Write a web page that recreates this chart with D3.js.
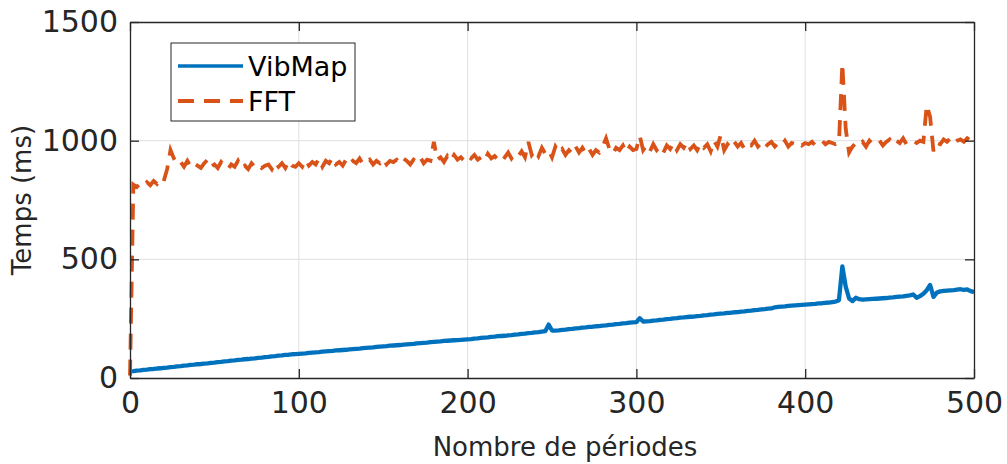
<!DOCTYPE html>
<html>
<head>
<meta charset="utf-8">
<script src="https://cdn.jsdelivr.net/npm/d3@7"></script>
<style>
  html, body { margin: 0; padding: 0; background: #fff; }
  svg { display: block; font-family: "DejaVu Sans", sans-serif; }
</style>
</head>
<body>
<svg id="chart" width="1007" height="464"></svg>
<script>
// ---- Data ----
const periods = d3.range(0, 501, 2); // 0, 2, 4, ... 500

const vibmap = [
  28, 29, 31, 32, 34, 35, 37, 38, 40, 41,
  43, 44, 46, 47, 49, 50, 52, 53, 55, 56,
  58, 59, 61, 62, 64, 65, 67, 68, 70, 71,
  73, 74, 76, 77, 79, 80, 82, 83, 85, 86,
  88, 89, 91, 92, 94, 95, 97, 98, 100, 101,
  102, 103, 104, 106, 107, 108, 109, 111, 112, 113,
  114, 116, 117, 118, 119, 121, 122, 123, 124, 126,
  127, 128, 129, 131, 132, 133, 134, 136, 137, 138,
  139, 141, 142, 143, 144, 146, 147, 148, 149, 151,
  152, 153, 154, 156, 157, 158, 159, 160, 161, 162,
  163, 164, 166, 167, 169, 170, 171, 173, 174, 176,
  177, 178, 180, 181, 183, 184, 186, 187, 189, 190,
  192, 193, 195, 197, 225, 200, 200, 201, 203, 204,
  206, 207, 209, 210, 212, 213, 215, 216, 218, 219,
  221, 222, 224, 225, 227, 228, 230, 231, 233, 234,
  235, 252, 238, 239, 240, 242, 243, 245, 246, 248,
  249, 251, 252, 254, 255, 257, 258, 259, 261, 262,
  264, 265, 267, 268, 270, 271, 272, 274, 275, 277,
  278, 280, 281, 283, 284, 286, 287, 289, 290, 292,
  293, 298, 300, 301, 302, 304, 305, 306, 307, 308,
  309, 310, 311, 312, 314, 315, 317, 318, 320, 322,
  328, 470, 385, 335, 324, 338, 332, 330, 331, 332,
  333, 334, 335, 336, 337, 339, 340, 342, 343, 344,
  346, 348, 352, 338, 345, 355, 370, 392, 342, 360,
  365, 367, 368, 369, 370, 372, 374, 371, 373, 366,
  362
];

const fft = [
  10, 815, 805, 820, 810, 825, 812, 830, 818, 840,
  830, 880, 960, 925, 900, 910, 890, 915, 890, 905,
  895, 885, 905, 920, 890, 900, 885, 910, 895, 880,
  900, 890, 915, 885, 895, 880, 905, 890, 900, 885,
  895, 900, 880, 910, 890, 905, 885, 915, 895, 890,
  905, 890, 920, 895, 910, 900, 925, 890, 915, 905,
  930, 900, 910, 895, 920, 900, 915, 905, 925, 900,
  910, 920, 900, 915, 905, 925, 900, 915, 910, 920,
  905, 925, 915, 900, 920, 910, 930, 905, 920, 915,
  995, 920, 930, 910, 935, 915, 940, 920, 930, 915,
  935, 925, 940, 920, 930, 915, 945, 925, 935, 920,
  940, 930, 950, 925, 945, 935, 955, 930, 995, 940,
  960, 935, 970, 945, 960, 930, 975, 950, 965, 940,
  960, 945, 975, 950, 970, 945, 965, 940, 960, 950,
  975, 1010, 965, 945, 970, 960, 980, 950, 975, 960,
  965, 1020, 960, 980, 955, 985, 960, 975, 950, 980,
  965, 990, 960, 985, 970, 995, 965, 980, 960, 990,
  970, 985, 955, 1000, 975, 1025, 960, 985, 970, 995,
  975, 990, 965, 985, 980, 1000, 975, 990, 970, 985,
  995, 975, 990, 980, 1000, 975, 990, 985, 995, 980,
  990, 985, 995, 980, 990, 1000, 985, 995, 990, 985,
  990, 1325, 1050, 950, 975, 990, 980, 995, 975, 1000,
  985, 990, 1000, 980, 995, 1005, 985, 1000, 990, 1010,
  985, 995, 1000, 990, 1000, 995, 1150, 1100, 955, 990,
  985, 1005, 995, 1010, 990, 1000, 1005, 995, 1010, 1000,
  1005
];

const xTicks = [0, 100, 200, 300, 400, 500];
const yTicks = [0, 500, 1000, 1500];
const seriesNames = ["VibMap", "FFT"];
const xLabel = "Nombre de périodes";
const yLabel = "Temps (ms)";

// ---- Layout ----
const W = 1007, H = 464;
const m = { left: 130, right: W - 974, top: 22, bottom: H - 378 };
const iw = W - m.left - m.right, ih = H - m.top - m.bottom;
const axisColor = "#262626";
const colors = { VibMap: "#0072BD", FFT: "#D95319" };

const svg = d3.select("#chart");
const g = svg.append("g").attr("transform", `translate(${m.left},${m.top})`);

const x = d3.scaleLinear().domain([0, 500]).range([0, iw]);
const y = d3.scaleLinear().domain([0, 1500]).range([ih, 0]);

// grid
g.append("g").selectAll("line").data(xTicks.slice(1, -1)).join("line")
  .attr("x1", d => x(d)).attr("x2", d => x(d)).attr("y1", 0).attr("y2", ih)
  .attr("stroke", "#dfdfdf").attr("stroke-width", 1);
g.append("g").selectAll("line").data(yTicks.slice(1, -1)).join("line")
  .attr("y1", d => y(d)).attr("y2", d => y(d)).attr("x1", 0).attr("x2", iw)
  .attr("stroke", "#dfdfdf").attr("stroke-width", 1);

// lines
g.append("defs").append("clipPath").attr("id", "clip")
  .append("rect").attr("x", -2).attr("y", -2).attr("width", iw + 4).attr("height", ih + 4);

const lineGen = arr => d3.line().x((d, i) => x(periods[i])).y(d => y(d))(arr);

g.append("path").attr("d", lineGen(vibmap)).attr("clip-path", "url(#clip)")
  .attr("fill", "none").attr("stroke", colors.VibMap).attr("stroke-width", 4.3)
  .attr("stroke-linejoin", "round");

g.append("path").attr("d", lineGen(fft)).attr("clip-path", "url(#clip)")
  .attr("fill", "none").attr("stroke", colors.FFT).attr("stroke-width", 3.8)
  .attr("stroke-dasharray", "16,10");

// axes (box)
const tickLen = 9;
const fmt = d3.format("d");
const xAxisB = d3.axisBottom(x).tickValues(xTicks).tickFormat(fmt).tickSizeInner(-tickLen).tickSizeOuter(0).tickPadding(14);
const xAxisT = d3.axisTop(x).tickValues(xTicks).tickSizeInner(-tickLen).tickSizeOuter(0).tickFormat("");
const yAxisL = d3.axisLeft(y).tickValues(yTicks).tickFormat(fmt).tickSizeInner(-tickLen).tickSizeOuter(0).tickPadding(12);
const yAxisR = d3.axisRight(y).tickValues(yTicks).tickSizeInner(-tickLen).tickSizeOuter(0).tickFormat("");

function styleAxis(sel) {
  sel.select(".domain").attr("stroke", axisColor).attr("stroke-width", 1.3);
  sel.selectAll(".tick line").attr("stroke", axisColor).attr("stroke-width", 1.3);
  sel.selectAll(".tick text").attr("fill", axisColor).style("font-size", "30px")
    .style("font-family", "DejaVu Sans, sans-serif");
}
g.append("g").attr("transform", `translate(0,${ih})`).call(xAxisB).call(styleAxis);
g.append("g").call(xAxisT).call(styleAxis);
g.append("g").call(yAxisL).call(styleAxis);
g.append("g").attr("transform", `translate(${iw},0)`).call(yAxisR).call(styleAxis);

// axis labels
svg.append("text").attr("x", 565).attr("y", 456)
  .attr("text-anchor", "middle").attr("fill", axisColor).style("font-size", "26px")
  .text(xLabel);
svg.append("text").attr("transform", `translate(31,${m.top + ih / 2}) rotate(-90)`)
  .attr("text-anchor", "middle").attr("fill", axisColor).style("font-size", "26px")
  .text(yLabel);

// legend
const lg = svg.append("g");
lg.append("rect").attr("x", 171).attr("y", 43).attr("width", 184).attr("height", 78)
  .attr("fill", "#fff").attr("stroke", axisColor).attr("stroke-width", 1);
seriesNames.forEach((name, i) => {
  const cy = 66 + i * 35;
  lg.append("line").attr("x1", 178).attr("x2", 243).attr("y1", cy).attr("y2", cy)
    .attr("stroke", colors[name]).attr("stroke-width", name === "FFT" ? 3.8 : 3.6)
    .attr("stroke-dasharray", name === "FFT" ? "16,10" : null);
  lg.append("text").attr("x", 248).attr("y", cy).attr("dy", "0.36em")
    .attr("fill", "#000").style("font-size", "27px").text(name);
});
</script>
</body>
</html>
